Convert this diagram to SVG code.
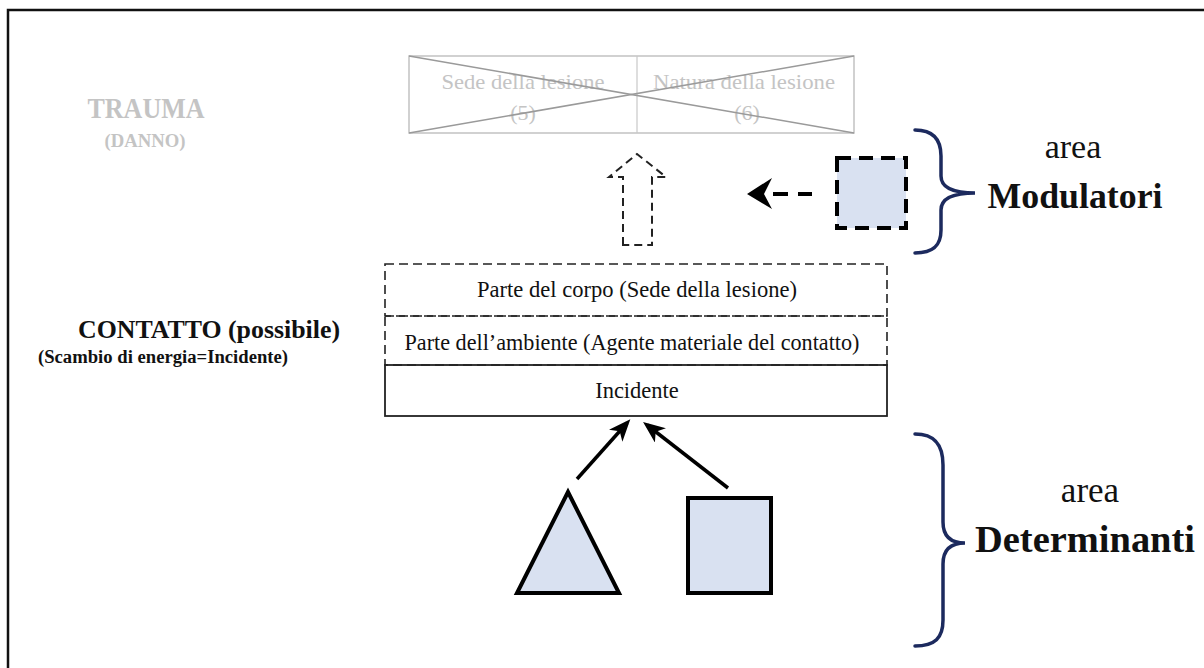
<svg xmlns="http://www.w3.org/2000/svg" width="1204" height="668" viewBox="0 0 1204 668">
<style>
text{font-family:"Liberation Serif","Times New Roman",serif;}
.gray{fill:#c4c4c4;}
.lbl{fill:#111;font-size:22.5px;text-anchor:middle;}
.brace{fill:none;stroke:#1c2a5e;stroke-width:3.5;stroke-linecap:round;}
.shape{fill:#d9e1f1;stroke:#000;stroke-width:4;}
.dash{fill:none;stroke:#222;stroke-width:1.6;stroke-dasharray:9 5;}
.conn{stroke:#000;stroke-width:3.5;fill:none;}
</style>
<defs>
<marker id="ah" markerUnits="userSpaceOnUse" markerWidth="24" markerHeight="20" refX="17" refY="9" orient="auto">
<path d="M0,0 L22,9 L0,18 L6,9 z" fill="#000"/>
</marker>
</defs>
<rect x="0" y="0" width="1204" height="668" fill="#fff"/>
<path d="M8,668 V10 H1204" fill="none" stroke="#111" stroke-width="2.5"/>

<g id="trauma-label">
<text x="146" y="118" class="gray" font-size="30" font-weight="bold" text-anchor="middle" textLength="117" lengthAdjust="spacingAndGlyphs">TRAUMA</text>
<text x="145" y="147" class="gray" font-size="18" font-weight="bold" text-anchor="middle" textLength="81" lengthAdjust="spacingAndGlyphs">(DANNO)</text>
</g>

<g id="trauma-box">
<rect x="409" y="56" width="445" height="77" fill="none" stroke="#c2c2c2" stroke-width="1.5"/>
<line x1="637" y1="56" x2="637" y2="133" stroke="#c8c8c8" stroke-width="1.2"/>
<text x="523" y="89" class="gray" font-size="22" text-anchor="middle" textLength="163" lengthAdjust="spacingAndGlyphs">Sede della lesione</text>
<text x="523" y="120" class="gray" font-size="22" text-anchor="middle">(5)</text>
<text x="744" y="89" class="gray" font-size="22" text-anchor="middle" textLength="182" lengthAdjust="spacingAndGlyphs">Natura della lesione</text>
<text x="747" y="120" class="gray" font-size="22" text-anchor="middle">(6)</text>
<line x1="409" y1="56" x2="854" y2="133" stroke="#9a9a9a" stroke-width="1.5"/>
<line x1="409" y1="133" x2="854" y2="56" stroke="#9a9a9a" stroke-width="1.5"/>
</g>

<g id="contatto-label">
<text x="209" y="338" fill="#111" font-size="24.5" font-weight="bold" text-anchor="middle" textLength="262" lengthAdjust="spacingAndGlyphs">CONTATTO (possibile)</text>
<text x="163" y="363" fill="#111" font-size="18" font-weight="bold" text-anchor="middle" textLength="250" lengthAdjust="spacingAndGlyphs">(Scambio di energia=Incidente)</text>
</g>

<g id="parte-corpo">
<rect x="385" y="264" width="502" height="52" class="dash"/>
<text x="637" y="297" class="lbl" textLength="320" lengthAdjust="spacingAndGlyphs">Parte del corpo (Sede della lesione)</text>
</g>
<g id="parte-ambiente">
<rect x="385" y="316" width="502" height="49" class="dash"/>
<text x="632" y="350" class="lbl" textLength="455" lengthAdjust="spacingAndGlyphs">Parte dell’ambiente (Agente materiale del contatto)</text>
</g>
<g id="incidente">
<rect x="385" y="365" width="502" height="51" fill="none" stroke="#222" stroke-width="1.8"/>
<text x="637" y="398" class="lbl">Incidente</text>
</g>

<g id="modulatore">
<rect x="837" y="158" width="69" height="70" fill="#d9e1f1" stroke="#000" stroke-width="4" stroke-dasharray="14 8"/>
</g>

<g id="triangolo">
<polygon points="568,492 517,593 619,593" class="shape" stroke-linejoin="miter"/>
</g>
<g id="quadrato">
<rect x="688" y="498" width="83" height="95" class="shape"/>
</g>

<g id="connectors">
<polygon points="623,245 623,177 609,177 637,154 666,177 652,177 652,245" fill="none" stroke="#222" stroke-width="2" stroke-dasharray="8 5"/>
<line x1="773" y1="194" x2="812" y2="194" stroke="#000" stroke-width="4" stroke-dasharray="15 10"/>
<polygon points="747,194 772,178 764,194 772,209" fill="#000"/>
<line x1="577" y1="479" x2="627" y2="423" class="conn" marker-end="url(#ah)"/>
<line x1="728" y1="488" x2="647" y2="425" class="conn" marker-end="url(#ah)"/>
</g>

<g id="area-modulatori">
<path class="brace" d="M915,130 C934,130 941,140 941,156 L941,176 C941,188 954,193 975,193 C954,193 941,198 941,210 L941,230 C941,245 934,253 915,253"/>
<text x="1073" y="158" fill="#111" font-size="34" text-anchor="middle">area</text>
<text x="1075" y="208" fill="#111" font-size="35" font-weight="bold" text-anchor="middle" textLength="175" lengthAdjust="spacingAndGlyphs">Modulatori</text>
</g>

<g id="area-determinanti">
<path class="brace" d="M915,434 C935,434 943,445 943,465 L943,522 C943,536 950,543 965,543 C950,543 943,550 943,564 L943,620 C943,638 935,646 915,646"/>
<text x="1090" y="502" fill="#111" font-size="35" text-anchor="middle">area</text>
<text x="1085" y="552" fill="#111" font-size="38" font-weight="bold" text-anchor="middle" textLength="220" lengthAdjust="spacingAndGlyphs">Determinanti</text>
</g>
</svg>
